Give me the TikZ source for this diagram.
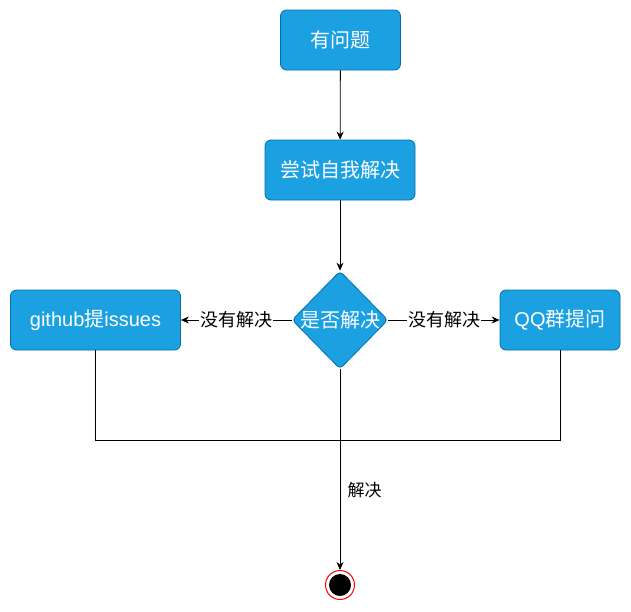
\documentclass[tikz,border=0pt]{standalone}
\usepackage{fontspec}
\setmainfont{Noto Sans CJK SC}
\newfontfamily\latin{Liberation Sans}
\usetikzlibrary{shapes.geometric,arrows.meta,positioning}
\definecolor{flowblue}{HTML}{1BA1E2}
\definecolor{flowedge}{HTML}{006EAF}
\tikzset{
  stepbox/.style={draw=flowedge, fill=flowblue, rounded corners=6pt, line width=0.8pt,
    minimum height=60pt, text=white, font=\fontsize{20}{24}\selectfont, inner sep=0pt},
  decide/.style={draw=flowedge, fill=flowblue, shape=diamond, rounded corners=4pt, line width=0.8pt,
    minimum width=96pt, minimum height=98pt, inner sep=0pt, text=white, font=\fontsize{20}{24}\selectfont},
  lbl/.style={fill=white, inner sep=1pt, font=\fontsize{18}{22}\selectfont},
  flow/.style={line width=0.8pt, -{Stealth[length=8pt,width=7pt]}},
  plain/.style={line width=0.8pt}
}
\begin{document}
\begin{tikzpicture}[x=1pt,y=-1pt]
  \useasboundingbox (0,0) rectangle (631,611);
  % nodes
  \node[stepbox, minimum width=120pt] (ask) at (340.5,40) {有问题};
  \node[stepbox, minimum width=150pt] (self) at (340,170) {尝试自我解决};
  \node[decide] (solved) at (340,320) {\makebox[0pt]{是否解决}};
  \node[stepbox, minimum width=170pt] (gh) at (95.5,320) {{\latin github}提{\latin issues}};
  \node[stepbox, minimum width=120pt] (qq) at (560,320) {{\latin QQ}群提问};
  % end state
  \node[circle, draw=red, fill=white, line width=1pt, minimum size=29pt, inner sep=0pt] (fin) at (340,585) {};
  \node[circle, fill=black, minimum size=22pt, inner sep=0pt] (dot) at (fin) {};
  \coordinate (merge) at (340,440);
  % connectors
  \draw[flow] (ask) -- (self);
  \draw[flow] (self) -- (solved);
  \draw[flow] (solved) -- node[lbl]{没有解决} (gh);
  \draw[flow] (solved) -- node[lbl]{没有解决} (qq);
  \draw[plain] (gh.south) |- (merge) -| (qq.south);
  \draw[flow] (solved) -- node[pos=0.6, right=4pt, font=\fontsize{17}{20}\selectfont]{解决} (fin);
\end{tikzpicture}
\end{document}
